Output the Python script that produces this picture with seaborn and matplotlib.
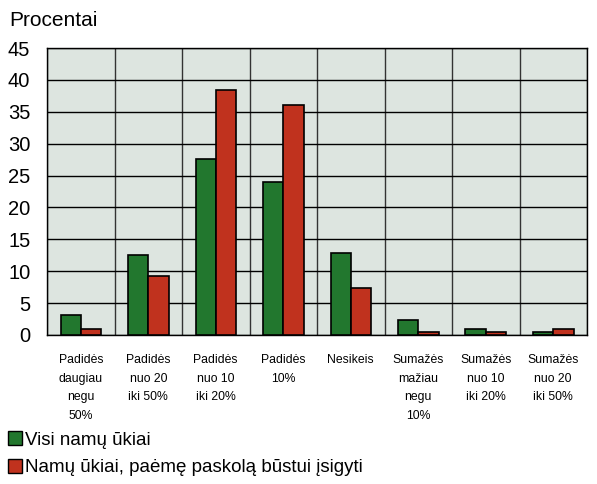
import pandas as pd
import matplotlib.pyplot as plt
import seaborn as sns
from matplotlib.patches import Patch
from matplotlib.ticker import FixedLocator

# Data
categories = ["Padidės\ndaugiau\nnegu\n50%", "Padidės\nnuo 20\niki 50%", "Padidės\nnuo 10\niki 20%",
              "Padidės\n10%", "Nesikeis", "Sumažės\nmažiau\nnegu\n10%", "Sumažės\nnuo 10\niki 20%",
              "Sumažės\nnuo 20\niki 50%"]
all_households = [3.2, 12.5, 27.6, 24.0, 12.8, 2.4, 0.9, 0.5]
mortgage_households = [1.0, 9.2, 38.4, 36.1, 7.4, 0.5, 0.5, 1.0]
series_names = ["Visi namų ūkiai", "Namų ūkiai, paėmę paskolą būstui įsigyti"]
colors = ["#22772e", "#c0321e"]

df = pd.DataFrame({
    "cat": categories * 2,
    "value": all_households + mortgage_households,
    "series": [series_names[0]] * len(categories) + [series_names[1]] * len(categories),
})

sns.set_style("white")
plt.rcParams["font.family"] = ["Liberation Sans", "DejaVu Sans"]
plt.rcParams["text.color"] = "black"

fig = plt.figure(figsize=(5.97, 4.84), dpi=100)
ax = fig.add_axes([47 / 597, 1 - 335 / 484, 540 / 597, 287 / 484])
ax.set_facecolor("#dde5e0")

sns.barplot(data=df, x="cat", y="value", hue="series", palette=colors, width=0.6,
            edgecolor="black", linewidth=1.2, saturation=1, legend=False, ax=ax, zorder=3)

ax.set_ylim(0, 45)
ax.set_xlim(-0.5, len(categories) - 0.5)
ax.set_yticks(range(0, 50, 5))
ax.yaxis.grid(True, color="black", linewidth=1, zorder=1)
ax.xaxis.set_minor_locator(FixedLocator([i + 0.5 for i in range(-1, len(categories))]))
ax.xaxis.grid(True, which="minor", color="#333333", linewidth=1, zorder=1)
ax.set_axisbelow(True)
ax.tick_params(axis="y", length=0, labelsize=14.5, pad=12, labelcolor="black")
ax.tick_params(axis="x", which="major", length=0, labelsize=8.8, pad=14, labelcolor="black")
ax.tick_params(axis="x", which="minor", length=6, width=1, color="black", direction="out")
for lbl in ax.get_xticklabels():
    lbl.set_linespacing(1.72)
    lbl.set_verticalalignment("top")
for s in ax.spines.values():
    s.set_color("black")
    s.set_linewidth(1)
ax.set_xlabel("")
ax.set_ylabel("")

fig.text(9 / 597, 1 - 20 / 484, "Procentai", fontsize=15, va="center", ha="left", color="black")

handles = [Patch(facecolor=c, edgecolor="black", linewidth=1) for c in colors]
fig.legend(handles, series_names, loc="lower left", bbox_to_anchor=(0.0, 0.0), frameon=False,
           fontsize=13.5, handlelength=0.75, handleheight=0.75, handletextpad=0.2,
           labelspacing=0.55, borderaxespad=0.2, borderpad=0.2, labelcolor="black")

fig.savefig("out.png", dpi=100)
